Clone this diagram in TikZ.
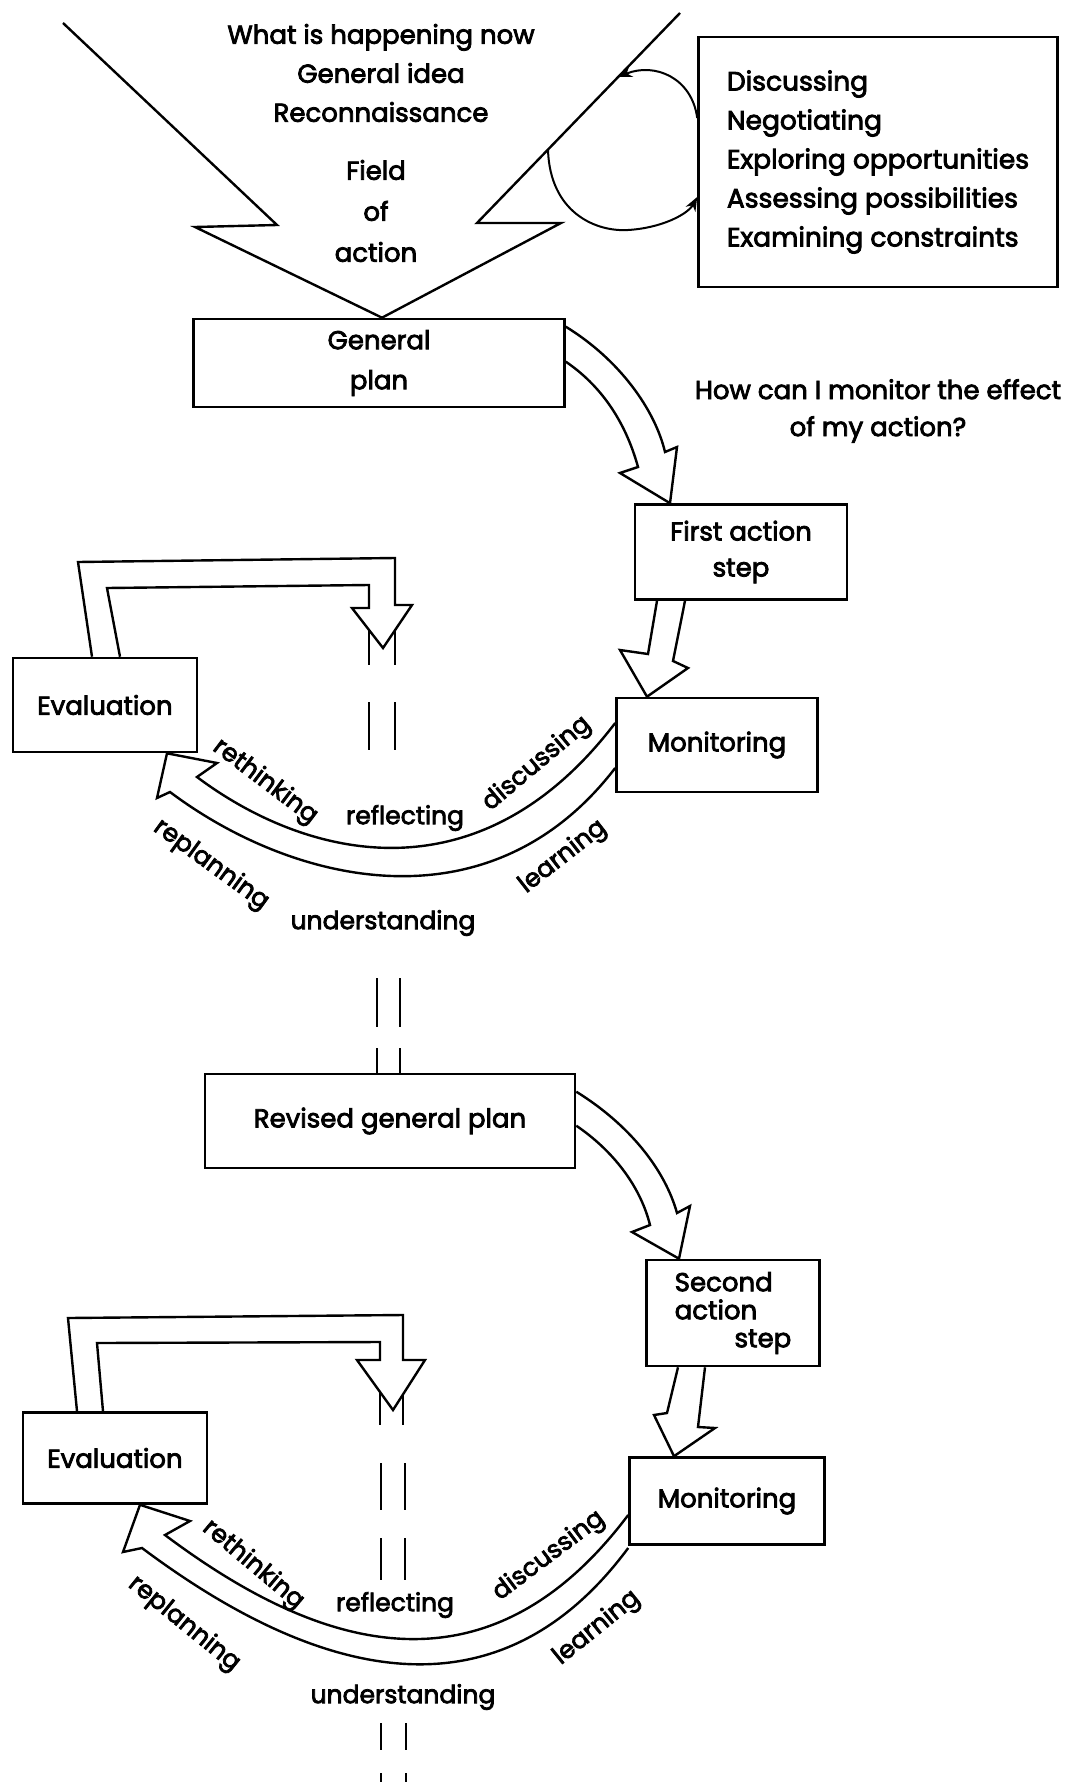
\documentclass[tikz,border=0pt]{standalone}
\usepackage{fontspec}
\setmainfont{Poppins}[FakeBold=3]
\usetikzlibrary{arrows.meta,calc,positioning}

\begin{document}
\begin{tikzpicture}[x=1pt,y=-1pt,>={Stealth[length=14pt,width=11pt]},line width=2.6pt,
    box node/.style={draw,rectangle,inner sep=0pt,align=center,font=\fontsize{26}{39}\selectfont},
    word node/.style={inner sep=0pt,font=\fontsize{25}{30}\selectfont},
    block arrow/.style={line width=2.4pt,line join=miter},
    rail line/.style={line width=2.4pt}]

  \useasboundingbox (0,0) rectangle (1068,1782);

  % boxes
  \node[box node,minimum width=359,minimum height=250,align=left,font=\fontsize{26.5}{39}\selectfont] (options) at (878,162)
    {Discussing\\Negotiating\\Exploring opportunities\\Assessing possibilities\\Examining constraints};
  \node[box node,minimum width=371,minimum height=88,font=\fontsize{26}{40}\selectfont] (plan) at (379,363) {General\\plan};
  \node[box node,minimum width=212,minimum height=95,font=\fontsize{26}{36}\selectfont] (first) at (741,552) {First action\\step};
  \node[box node,minimum width=201,minimum height=94] (monitor1) at (717,745) {Monitoring};
  \node[box node,minimum width=184,minimum height=94] (eval1) at (105,705) {Evaluation};
  \node[box node,minimum width=370,minimum height=94] (revised) at (390,1121) {Revised general plan};
  \node[box node,minimum width=173,minimum height=106,align=left,font=\fontsize{26}{28}\selectfont] (second) at (733,1313)
    {Second\\action\\\hspace*{2.3em}step};
  \node[box node,minimum width=195,minimum height=87] (monitor2) at (727,1501) {Monitoring};
  \node[box node,minimum width=184,minimum height=91] (eval2) at (115,1458) {Evaluation};

  % field of action
  \node[word node,align=center,font=\fontsize{26}{39}\selectfont] (idea) at (381,73) {What is happening now\\General idea\\Reconnaissance};
  \node[word node,align=center,font=\fontsize{26}{41}\selectfont] (field) at (376,211) {Field\\of\\action};
  \node[word node,align=center,font=\fontsize{26}{37}\selectfont] (question) at (878,411) {How can I monitor the effect\\of my action?};

  \draw[block arrow] (63,23) -- (277,225) -- (195,227) -- (plan.north -| 382,0) -- (561,223) -- (477,223) -- (680,13);
  \draw[->,line width=2pt] (options.west |- 0,118) .. controls (692,78) and (655,62) .. (618,77);
  \draw[->,line width=2pt] (548,150) .. controls (550,212) and (595,232) .. (628,230) .. controls (662,228) and (688,214) .. (options.west |- 0,197);

  % first cycle
  \draw[block arrow] ($(plan.north east)+(0,9)$) .. controls (620,360) and (655,410) .. (665,452) -- (677,447)
    -- (first.north -| 670,0) -- (620,473) -- (638,467) .. controls (625,420) and (600,385) .. ($(plan.north east)+(0,44)$);
  \draw[block arrow] (first.south -| 657,0) -- (648,654) -- (620,650) -- (monitor1.north -| 647,0) -- (688,668) -- (673,661) -- (first.south -| 685,0);
  \draw[block arrow] (monitor1.west |- 0,723) .. controls (478,903) and (305,858) .. (197,777) -- (217,763) -- (eval1.south -| 167,0)
    -- (157,798) -- (170,792) .. controls (294,885) and (490,931) .. (monitor1.west |- 0,768);
  \draw[block arrow] ($(eval1.north)+(-13,0)$) -- (78,562) -- (395,558) -- (395,605) -- (412,605) -- (383,648) -- (352,608)
    -- (369,608) -- (369,585) -- (107,588) -- ($(eval1.north)+(15,0)$);
  \draw[rail line] (369,631) -- (369,665) (395,630) -- (395,665) (369,702) -- (369,750) (395,702) -- (395,750);
  \draw[rail line] (377,978) -- (377,1027) (400,978) -- (400,1027) (377,1048) -- (revised.north -| 377,0) (400,1048) -- (revised.north -| 400,0);

  \node[word node,rotate=-37] (rethink1) at (265,782) {rethinking};
  \node[word node] (reflect1) at (405,818) {reflecting};
  \node[word node,rotate=40] (discuss1) at (537,764) {discussing};
  \node[word node,rotate=-36] (replan1) at (211,865) {replanning};
  \node[word node] (understand1) at (383,923) {understanding};
  \node[word node,rotate=38] (learn1) at (563,857) {learning};

  % second cycle
  \draw[block arrow] ($(revised.north east)+(0,19)$) .. controls (630,1125) and (665,1170) .. (677,1213) -- (690,1206)
    -- (second.north -| 679,0) -- (632,1232) -- (650,1225) .. controls (640,1185) and (612,1150) .. ($(revised.north east)+(0,53)$);
  \draw[block arrow] (second.south -| 678,0) -- (667,1413) -- (654,1415) -- (monitor2.north -| 674,0) -- (715,1428) -- (698,1427) -- (second.south -| 705,0);
  \draw[block arrow] (monitor2.west |- 0,1515) .. controls (480,1712) and (305,1640) .. (165,1535) -- (190,1521) -- (eval2.south -| 140,0)
    -- (123,1552) -- (142,1548) .. controls (305,1670) and (491,1733) .. (monitor2.west |- 0,1548);
  \draw[block arrow] ($(eval2.north)+(-38,0)$) -- (68,1318) -- (403,1315) -- (403,1360) -- (425,1360) -- (393,1410) -- (357,1360)
    -- (380,1360) -- (380,1342) -- (97,1343) -- ($(eval2.north)+(-12,0)$);
  \draw[rail line] (380,1392) -- (380,1425) (403,1394) -- (403,1425) (381,1463) -- (381,1510) (405,1463) -- (405,1510)
    (381,1538) -- (381,1580) (405,1538) -- (405,1580);
  \draw[rail line] (381,1723) -- (381,1750) (406,1723) -- (406,1750) (381,1773) -- (381,1782) (406,1773) -- (406,1782);

  \node[word node,rotate=-40] (rethink2) at (253,1565) {rethinking};
  \node[word node] (reflect2) at (395,1605) {reflecting};
  \node[word node,rotate=37] (discuss2) at (549,1556) {discussing};
  \node[word node,rotate=-39] (replan2) at (184,1624) {replanning};
  \node[word node] (understand2) at (403,1697) {understanding};
  \node[word node,rotate=39] (learn2) at (597,1628) {learning};
\end{tikzpicture}
\end{document}
